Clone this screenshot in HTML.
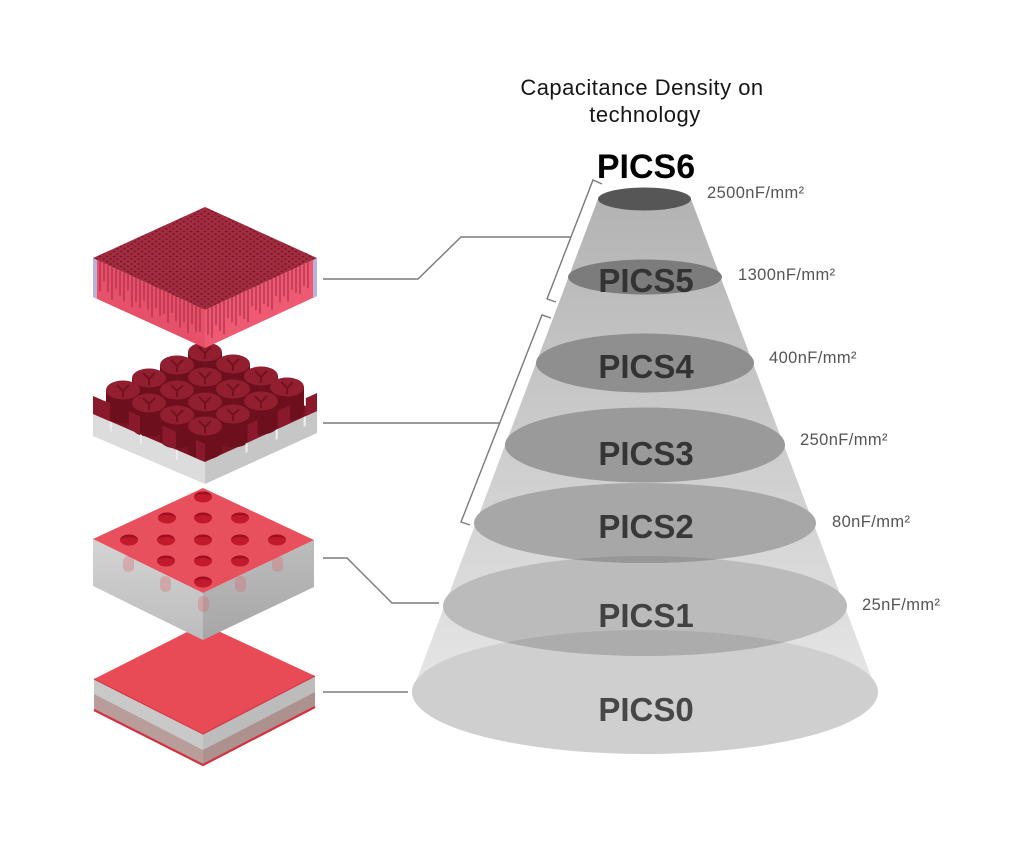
<!DOCTYPE html>
<html>
<head>
<meta charset="utf-8">
<style>
  html,body{margin:0;padding:0;background:#ffffff;}
  svg{display:block;}
  .t{font-family:"Liberation Sans",Arial,sans-serif;}
</style>
</head>
<body>
<svg width="1024" height="847" viewBox="0 0 1024 847" xmlns="http://www.w3.org/2000/svg">
<defs>
  <linearGradient id="coneG" x1="0" y1="199" x2="0" y2="692" gradientUnits="userSpaceOnUse">
    <stop offset="0" stop-color="#b3b3b3"/>
    <stop offset="1" stop-color="#e6e6e6"/>
  </linearGradient>
  <clipPath id="c0"><ellipse cx="645" cy="692" rx="233" ry="62"/></clipPath>
  <clipPath id="c1"><ellipse cx="645" cy="606" rx="202" ry="50"/></clipPath>
  <clipPath id="c2"><ellipse cx="645" cy="523" rx="171" ry="40"/></clipPath>
  <pattern id="pores" width="7" height="5" patternUnits="userSpaceOnUse">
    <rect width="7" height="5" fill="#a22d40"/>
    <ellipse cx="2" cy="1.5" rx="1.4" ry="0.9" fill="#791627"/>
    <ellipse cx="5.5" cy="4" rx="1.4" ry="0.9" fill="#791627"/>
  </pattern>
  <linearGradient id="b3L" x1="0" y1="0" x2="0" y2="1">
    <stop offset="0" stop-color="#d4d4d4"/>
    <stop offset="1" stop-color="#bcbcbc"/>
  </linearGradient>
  <linearGradient id="b3R" x1="0" y1="0" x2="0" y2="1">
    <stop offset="0" stop-color="#bdbdbd"/>
    <stop offset="1" stop-color="#a6a6a6"/>
  </linearGradient>
  <g id="blob">
    <path d="M-17,-24 L-17,0 A17 9.5 0 0 0 17,0 L17,-24 Z" fill="#6d0f1d"/>
    <ellipse cx="0" cy="-24" rx="17" ry="9.5" fill="#911f2f"/>
    <path d="M-6,-29 L0,-23 L6,-29 M0,-23 L0,-17" fill="none" stroke="#74111f" stroke-width="2"/>
  </g>
</defs>

<!-- ===== Title ===== -->
<text class="t" x="642" y="95" text-anchor="middle" font-size="22" letter-spacing="0.5" fill="#151515">Capacitance Density on</text>
<text class="t" x="645" y="122" text-anchor="middle" font-size="22" letter-spacing="0.5" fill="#151515">technology</text>

<!-- ===== Cone ===== -->
<polygon points="598,199 412,692 877,692 691,199" fill="url(#coneG)"/>
<ellipse cx="645" cy="692" rx="233" ry="62" fill="#cfcfcf"/>
<ellipse cx="645" cy="606" rx="202" ry="50" fill="#bbbbbb"/>
<ellipse cx="645" cy="523" rx="171" ry="40" fill="#a7a7a7"/>
<ellipse cx="645" cy="445" rx="140" ry="37.5" fill="#9a9a9a"/>
<ellipse cx="645" cy="363" rx="109" ry="29.5" fill="#8f8f8f"/>
<ellipse cx="645" cy="277" rx="77" ry="17.5" fill="#7c7c7c"/>
<ellipse cx="644.5" cy="199" rx="46.5" ry="11.5" fill="#565656"/>
<!-- overlaps -->
<ellipse cx="645" cy="606" rx="202" ry="50" fill="#acacac" clip-path="url(#c0)"/>
<ellipse cx="645" cy="523" rx="171" ry="40" fill="#979797" clip-path="url(#c1)"/>
<ellipse cx="645" cy="445" rx="140" ry="37.5" fill="#8e8e8e" clip-path="url(#c2)"/>

<!-- PICS labels -->
<text class="t" x="646" y="178" text-anchor="middle" font-size="34" font-weight="bold" fill="#000">PICS6</text>
<text class="t" x="646" y="292" text-anchor="middle" font-size="33" font-weight="bold" fill="#333">PICS5</text>
<text class="t" x="646" y="378" text-anchor="middle" font-size="33" font-weight="bold" fill="#333">PICS4</text>
<text class="t" x="646" y="465" text-anchor="middle" font-size="33" font-weight="bold" fill="#353535">PICS3</text>
<text class="t" x="646" y="538" text-anchor="middle" font-size="33" font-weight="bold" fill="#383838">PICS2</text>
<text class="t" x="646" y="627" text-anchor="middle" font-size="33" font-weight="bold" fill="#424242">PICS1</text>
<text class="t" x="646" y="721" text-anchor="middle" font-size="33" font-weight="bold" fill="#474747">PICS0</text>

<!-- density labels -->
<g class="t" font-size="16.5" letter-spacing="0.4" fill="#555">
  <text x="707" y="198">2500nF/mm²</text>
  <text x="738" y="280">1300nF/mm²</text>
  <text x="769" y="363">400nF/mm²</text>
  <text x="800" y="445">250nF/mm²</text>
  <text x="832" y="527">80nF/mm²</text>
  <text x="862" y="610">25nF/mm²</text>
</g>

<!-- ===== Connectors & brackets ===== -->
<g fill="none" stroke="#7a7a7a" stroke-width="1.4">
  <polyline points="323,279 418,279 461,237 571,237"/>
  <polyline points="602,184 593,180 547,299 556,302"/>
  <polyline points="323,423 500,423"/>
  <polyline points="551,318 542,315 461,522 470,525"/>
  <polyline points="323,558 347,558 392,603 439,603"/>
  <polyline points="323,692 408,692"/>
</g>

<!-- ===== Block 4 (bottom) ===== -->
<g>
  <polygon points="94,679 203,734 203,765 94,710" fill="#c9c9c9"/>
  <polygon points="94,694 203,750 203,765 94,710" fill="#b99d9b"/>
  <polygon points="203,734 315,676 315,707 203,765" fill="#bcbcbc"/>
  <polygon points="203,750 315,692 315,707 203,765" fill="#ad918f"/>
  <polyline points="94,710 203,765 315,707" fill="none" stroke="#d4303f" stroke-width="2.2"/>
  <polygon points="203,624 315,676 203,734 94,679" fill="#e84a56"/>
  <polyline points="94,679 203,734 315,676" fill="none" stroke="#d63846" stroke-width="1.2"/>
</g>

<!-- ===== Block 3 (holes) ===== -->
<g>
  <polygon points="93,539 203,593 203,640 93,586" fill="url(#b3L)"/>
  <polygon points="203,593 314,540 314,587 203,640" fill="url(#b3R)"/>
  <g fill="#d86a72" opacity="0.35">
    <rect x="123" y="556" width="11" height="16" rx="5"/>
    <rect x="160" y="576" width="11" height="16" rx="5"/>
    <rect x="198" y="596" width="11" height="16" rx="5"/>
    <rect x="235" y="576" width="11" height="16" rx="5"/>
    <rect x="272" y="556" width="11" height="16" rx="5"/>
  </g>
  <polygon points="203,488 314,540 203,593 93,539" fill="#e9505d"/>
  <g fill="#c01a2c">
    <ellipse cx="203" cy="497" rx="9" ry="5.5"/>
    <ellipse cx="167" cy="518" rx="9" ry="5.5"/>
    <ellipse cx="203" cy="518" rx="9" ry="5.5"/>
    <ellipse cx="240" cy="518" rx="9" ry="5.5"/>
    <ellipse cx="129" cy="540" rx="9" ry="5.5"/>
    <ellipse cx="166" cy="540" rx="9" ry="5.5"/>
    <ellipse cx="203" cy="540" rx="9" ry="5.5"/>
    <ellipse cx="240" cy="540" rx="9" ry="5.5"/>
    <ellipse cx="277" cy="540" rx="9" ry="5.5"/>
    <ellipse cx="166" cy="561" rx="9" ry="5.5"/>
    <ellipse cx="203" cy="561" rx="9" ry="5.5"/>
    <ellipse cx="240" cy="561" rx="9" ry="5.5"/>
    <ellipse cx="203" cy="582" rx="9" ry="5.5"/>
  </g>
  <g fill="#9e0f20">
    <path d="M194,497 A9 5.5 0 0 1 212,497 A9 3 0 0 0 194,497Z"/>
    <path d="M158,518 A9 5.5 0 0 1 176,518 A9 3 0 0 0 158,518Z"/>
    <path d="M194,518 A9 5.5 0 0 1 212,518 A9 3 0 0 0 194,518Z"/>
    <path d="M231,518 A9 5.5 0 0 1 249,518 A9 3 0 0 0 231,518Z"/>
    <path d="M120,540 A9 5.5 0 0 1 138,540 A9 3 0 0 0 120,540Z"/>
    <path d="M157,540 A9 5.5 0 0 1 175,540 A9 3 0 0 0 157,540Z"/>
    <path d="M194,540 A9 5.5 0 0 1 212,540 A9 3 0 0 0 194,540Z"/>
    <path d="M231,540 A9 5.5 0 0 1 249,540 A9 3 0 0 0 231,540Z"/>
    <path d="M268,540 A9 5.5 0 0 1 286,540 A9 3 0 0 0 268,540Z"/>
    <path d="M157,561 A9 5.5 0 0 1 175,561 A9 3 0 0 0 157,561Z"/>
    <path d="M194,561 A9 5.5 0 0 1 212,561 A9 3 0 0 0 194,561Z"/>
    <path d="M231,561 A9 5.5 0 0 1 249,561 A9 3 0 0 0 231,561Z"/>
    <path d="M194,582 A9 5.5 0 0 1 212,582 A9 3 0 0 0 194,582Z"/>
  </g>
</g>

<!-- ===== Block 2 (3D trench) ===== -->
<g>
  <polygon points="93,414 205,462 205,484 93,436" fill="#dcdcdc"/>
  <polygon points="205,462 317,411 317,433 205,484" fill="#c6c6c6"/>
  <polygon points="205,362 317,411 205,462 93,414" fill="#7b1525"/>
  <use href="#blob" x="205" y="376"/>
  <use href="#blob" x="233" y="388"/>
  <use href="#blob" x="177" y="389"/>
  <use href="#blob" x="261" y="400"/>
  <use href="#blob" x="205" y="401"/>
  <use href="#blob" x="149" y="402"/>
  <use href="#blob" x="287" y="411"/>
  <use href="#blob" x="233" y="413"/>
  <use href="#blob" x="177" y="414"/>
  <use href="#blob" x="123" y="414"/>
  <use href="#blob" x="261" y="425"/>
  <use href="#blob" x="205" y="426"/>
  <use href="#blob" x="149" y="427"/>
  <use href="#blob" x="233" y="438"/>
  <use href="#blob" x="177" y="439"/>
  <use href="#blob" x="205" y="450"/>
  <!-- edge fins -->
  <g fill="#8a1a2b">
    <polygon points="93,414 109.8,421.2 109.8,403.2 93,396"/>
    <polygon points="128.8,429.4 140,434.2 140,416.2 128.8,411.4"/>
    <polygon points="162.4,443.8 175.9,449.5 175.9,431.5 162.4,425.8"/>
    <polygon points="196,458.2 205,462 205,444 196,440.2"/>
    <polygon points="247.6,442.6 257.6,438 257.6,420 247.6,424.6"/>
    <polygon points="277.8,428.9 290.1,423.2 290.1,405.2 277.8,410.9"/>
    <polygon points="305.8,416.1 317,411 317,393 305.8,398.1"/>
  </g>
  <g fill="#ececec">
    <polygon points="109.8,421.2 112,422.2 112,432 109.8,431"/>
    <polygon points="140,434.2 142,435 142,445 140,444"/>
    <polygon points="175.9,449.5 178,450.4 178,460 175.9,459"/>
    <polygon points="245.5,443.6 247.6,442.6 247.6,452 245.5,453"/>
    <polygon points="275.6,430 277.8,428.9 277.8,439 275.6,440"/>
    <polygon points="303.6,417.1 305.8,416.1 305.8,426 303.6,427"/>
  </g>
</g>

<!-- ===== Block 1 (porous) ===== -->
<g>
  <polygon points="93,258 205,310 205,348 93,297" fill="#e65068"/>
  <polygon points="205,310 317,258 317,296 205,348" fill="#ee5a72"/>
  <path fill="none" stroke="#a82a45" stroke-width="2" stroke-opacity="0.55"
    d="M100 261.3v30M104 263.1v18M108 265v27M112 266.8v33M116 268.7v20M120 270.5v25M124 272.4v29M128 274.3v16M132 276.1v31M136 278v24M140 279.8v28M144 281.7v19M148 283.5v26M152 285.4v32M156 287.3v21M160 289.1v27M164 291v23M168 292.8v30M172 294.7v18M176 296.5v25M180 298.4v29M184 300.3v22M188 302.1v31M192 304v20M196 305.8v26M200 307.7v24"/>
  <path fill="none" stroke="#a82a45" stroke-width="2" stroke-opacity="0.55"
    d="M208 308.6v26M212 306.7v31M216 304.9v20M220 303v28M224 301.2v33M228 299.3v19M232 297.5v25M236 295.6v30M240 293.7v22M244 291.9v27M248 290v32M252 288.2v18M256 286.3v24M260 284.5v29M264 282.6v21M268 280.7v26M272 278.9v31M276 277v19M280 275.2v27M284 273.3v23M288 271.5v30M292 269.6v20M296 267.7v25M300 265.9v28M304 264v22M308 262.2v26"/>
  <polygon points="93,258 97,260 97,299 93,297" fill="#b8b2dc"/>
  <polygon points="313,260 317,258 317,296 313,298" fill="#b8b2dc"/>
  <polygon points="205,207 317,258 205,310 93,258" fill="url(#pores)"/>
</g>
</svg>
</body>
</html>
